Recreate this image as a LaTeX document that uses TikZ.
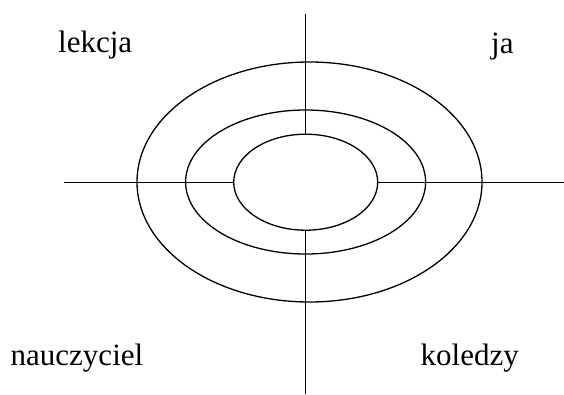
\documentclass[tikz,border=0pt]{standalone}
\usepackage{fontspec}
\setmainfont{Liberation Serif}
\usetikzlibrary{shapes.geometric}
\begin{document}
\begin{tikzpicture}[x=1pt,y=-1pt,
  ring/.style={draw,ellipse,inner sep=0pt,line width=1.3pt},
  axis/.style={line width=1.3pt},
  lbl/.style={anchor=base west,inner sep=0pt,font=\fontsize{31}{37}\selectfont}]
\useasboundingbox (0,0) rectangle (564,394);
\node[ring,minimum width=345pt,minimum height=240pt] (outer) at (309.5,182) {};
\node[ring,minimum width=240pt,minimum height=144pt] (middle) at (305.6,182) {};
\node[ring,minimum width=144pt,minimum height=96pt] (inner) at (305.7,182.2) {};
\coordinate (top) at (305.7,13.5);
\coordinate (bottom) at (305.7,394);
\coordinate (left) at (64,182.2);
\coordinate (right) at (564,182.2);
\draw[axis] (top) -- (inner.north);
\draw[axis] (inner.south) -- (bottom);
\draw[axis] (left) -- (inner.west);
\draw[axis] (inner.east) -- (right);
\node[lbl] (lekcja) at (58,52.3) {lekcja};
\node[lbl] (ja) at (491,53) {ja};
\node[lbl] (nauczyciel) at (10.5,365) {nauczyciel};
\node[lbl] (koledzy) at (420.5,365) {koledzy};
\end{tikzpicture}
\end{document}
